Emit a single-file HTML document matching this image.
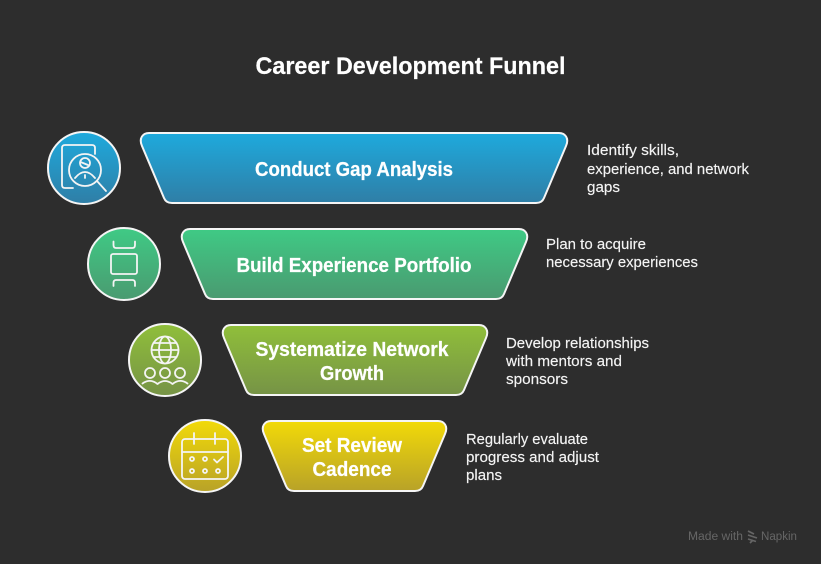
<!DOCTYPE html>
<html>
<head>
<meta charset="utf-8">
<style>
html,body{margin:0;padding:0;background:#2d2d2d;width:821px;height:564px;overflow:hidden}
svg{display:block}
text{font-family:"Liberation Sans",sans-serif;fill:#fff}
.h{font-weight:bold;font-size:20.500px;text-anchor:middle;stroke:#fff;stroke-width:.25px}
.d{font-size:15px;fill:#f4f4f4;stroke:#f4f4f4;stroke-width:.15px}
.i{fill:none;stroke:#f4f4f4;stroke-width:1.800;stroke-linecap:round;stroke-linejoin:round}
</style>
</head>
<body>
<svg width="821" height="564" viewBox="0 0 821 564" xmlns="http://www.w3.org/2000/svg">
<defs>
<linearGradient id="g1" x1="0" y1="0" x2="0" y2="1"><stop offset="0" stop-color="#1eaadd"/><stop offset="1" stop-color="#2f7ea6"/></linearGradient>
<linearGradient id="g2" x1="0" y1="0" x2="0" y2="1"><stop offset="0" stop-color="#3fca85"/><stop offset="1" stop-color="#4a9a70"/></linearGradient>
<linearGradient id="g3" x1="0" y1="0" x2="0" y2="1"><stop offset="0" stop-color="#90bf3a"/><stop offset="1" stop-color="#769346"/></linearGradient>
<linearGradient id="g4" x1="0" y1="0" x2="0" y2="1"><stop offset="0" stop-color="#f2da08"/><stop offset="1" stop-color="#b8a228"/></linearGradient>
</defs>
<rect width="821" height="564" fill="#2d2d2d"/>
<text x="410.500" y="74" font-size="24" font-weight="bold" text-anchor="middle" textLength="310" lengthAdjust="spacingAndGlyphs" stroke="#fff" stroke-width=".2">Career Development Funnel</text>

<g stroke="#f5f5f5" stroke-width="2">
<path fill="url(#g1)" d="M149 133H559C565 133 569.500 138 566 146L544 198Q542 203 536 203H172Q166 203 164 198L142 146C138.500 138 143 133 149 133Z"/>
<path fill="url(#g2)" d="M190 229H519C525 229 529.500 234 526 242L504 294Q502 299 496 299H213Q207 299 205 294L183 242C179.500 234 184 229 190 229Z"/>
<path fill="url(#g3)" d="M231 325H479C485 325 489.500 330 486 338L464 390Q462 395 456 395H254Q248 395 246 390L224 338C220.500 330 225 325 231 325Z"/>
<path fill="url(#g4)" d="M271 421H438C444 421 448.500 426 445 434L423 486Q421 491 415 491H294Q288 491 286 486L264 434C260.500 426 265 421 271 421Z"/>
<circle cx="84" cy="168" r="36" fill="url(#g1)"/>
<circle cx="124" cy="264" r="36" fill="url(#g2)"/>
<circle cx="165" cy="360" r="36" fill="url(#g3)"/>
<circle cx="205" cy="456" r="36" fill="url(#g4)"/>
</g>

<text class="h" x="354" y="176" textLength="198" lengthAdjust="spacingAndGlyphs">Conduct Gap Analysis</text>
<text class="h" x="354" y="272" textLength="235" lengthAdjust="spacingAndGlyphs">Build Experience Portfolio</text>
<text class="h" x="352" y="356" textLength="193" lengthAdjust="spacingAndGlyphs">Systematize Network</text>
<text class="h" x="352" y="380" textLength="64" lengthAdjust="spacingAndGlyphs">Growth</text>
<text class="h" x="352" y="452" textLength="100" lengthAdjust="spacingAndGlyphs">Set Review</text>
<text class="h" x="352" y="476" textLength="79" lengthAdjust="spacingAndGlyphs">Cadence</text>

<text class="d" x="587" y="155" textLength="92" lengthAdjust="spacingAndGlyphs">Identify skills,</text>
<text class="d" x="587" y="174" textLength="162" lengthAdjust="spacingAndGlyphs">experience, and network</text>
<text class="d" x="587" y="192" textLength="33" lengthAdjust="spacingAndGlyphs">gaps</text>
<text class="d" x="546" y="249" textLength="100" lengthAdjust="spacingAndGlyphs">Plan to acquire</text>
<text class="d" x="546" y="267" textLength="152" lengthAdjust="spacingAndGlyphs">necessary experiences</text>
<text class="d" x="506" y="348" textLength="143" lengthAdjust="spacingAndGlyphs">Develop relationships</text>
<text class="d" x="506" y="366" textLength="116" lengthAdjust="spacingAndGlyphs">with mentors and</text>
<text class="d" x="506" y="384" textLength="62" lengthAdjust="spacingAndGlyphs">sponsors</text>
<text class="d" x="466" y="444" textLength="122" lengthAdjust="spacingAndGlyphs">Regularly evaluate</text>
<text class="d" x="466" y="462" textLength="133" lengthAdjust="spacingAndGlyphs">progress and adjust</text>
<text class="d" x="466" y="480" textLength="36" lengthAdjust="spacingAndGlyphs">plans</text>

<g class="i">
<path d="M73 188H65Q62 188 62 185V148Q62 145 65 145H92Q95 145 95 148V154"/>
<circle cx="85" cy="170" r="16"/>
<path d="M97 181L106 191"/>
<circle cx="85" cy="163" r="5"/>
<path d="M80.500 162L88 165"/>
<path d="M75 178Q85 166 95 178M85 175V178"/>
</g>
<g class="i">
<path d="M113.500 241.500V245Q113.500 248 116 248H132.500Q135 248 135 245V241.500"/>
<rect x="111" y="254" width="26" height="20" rx="2"/>
<path d="M113.500 286V283Q113.500 280 116 280H132.500Q135 280 135 283V286"/>
</g>
<g class="i">
<circle cx="165" cy="350" r="13.500"/>
<ellipse cx="165" cy="350" rx="6" ry="13.500"/>
<path d="M151.500 350H178.500M153.500 343H176.500M153.500 357H176.500"/>
<circle cx="150" cy="373" r="5"/><circle cx="165" cy="373" r="5"/><circle cx="180" cy="373" r="5"/>
<path d="M142.500 383.500Q150 378 157.500 384Q165 378 172.500 384Q180 378 187.500 383.500"/>
</g>
<g class="i">
<rect x="182" y="439" width="46" height="40" rx="3"/>
<path d="M182 452H228M194 433V444M215 433V444"/>
<circle cx="192" cy="459" r="2"/><circle cx="205" cy="459" r="2"/>
<path d="M214 459.500L217 462.500L223 457"/>
<circle cx="192" cy="471" r="2"/><circle cx="205" cy="471" r="2"/><circle cx="218" cy="471" r="2"/>
</g>

<text x="688" y="540" font-size="11.500" style="fill:#666" textLength="55" lengthAdjust="spacingAndGlyphs">Made with</text>
<g stroke="#666" stroke-width="1.700" fill="none"><path d="M748 531L754 534M748 535L757 538M748 539L756 541.500M750 543L753 540"/></g>
<text x="761" y="540" font-size="11.500" style="fill:#666" textLength="36" lengthAdjust="spacingAndGlyphs">Napkin</text>
</svg>
</body>
</html>
